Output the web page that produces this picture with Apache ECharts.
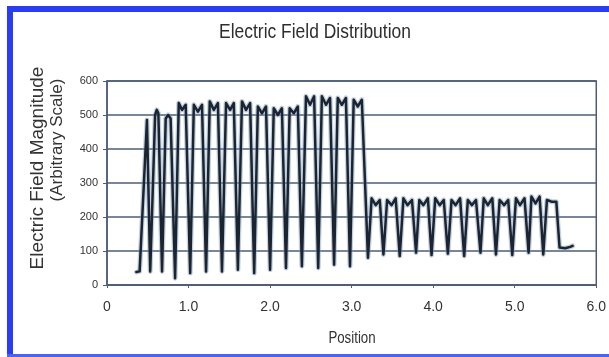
<!DOCTYPE html>
<html>
<head>
<meta charset="utf-8">
<title>Electric Field Distribution</title>
<script src="https://cdn.jsdelivr.net/npm/echarts/dist/echarts.min.js"></script>
<style>
    html, body { margin: 0; padding: 0; background: #fff; }
    #chart { width: 609px; height: 357px; }
</style>
</head>
<body>
<div id="chart"></div>
<script>
// values
var position = [
    0.36, 0.40, 0.49, 0.53,
    0.59, 0.61, 0.63, 0.675,
    0.72, 0.75, 0.78, 0.835,
    0.88, 0.92, 0.965, 1.02,
    1.065, 1.115, 1.165, 1.215,
    1.26, 1.31, 1.36, 1.41,
    1.46, 1.51, 1.555, 1.605,
    1.655, 1.705, 1.755, 1.805,
    1.85, 1.90, 1.95, 2.00,
    2.045, 2.095, 2.145, 2.195,
    2.24, 2.29, 2.34, 2.39,
    2.44, 2.49, 2.54, 2.59,
    2.635, 2.685, 2.735, 2.785,
    2.83, 2.88, 2.93, 2.98,
    3.025, 3.075, 3.125, 3.20,
    3.245, 3.295, 3.345, 3.39,
    3.435, 3.49, 3.54, 3.59,
    3.635, 3.685, 3.74, 3.79,
    3.83, 3.88, 3.935, 3.98,
    4.025, 4.08, 4.13, 4.18,
    4.225, 4.275, 4.33, 4.38,
    4.425, 4.475, 4.525, 4.58,
    4.62, 4.67, 4.725, 4.77,
    4.815, 4.87, 4.92, 4.97,
    5.015, 5.065, 5.12, 5.17,
    5.205, 5.255, 5.305, 5.35,
    5.395, 5.45, 5.51, 5.55,
    5.62, 5.68, 5.71
];
var magnitude = [
    38, 40, 485, 40,
    500, 515, 505, 40,
    490, 500, 490, 20,
    535, 515, 530, 35,
    530, 510, 530, 40,
    540, 515, 535, 40,
    535, 515, 535, 45,
    540, 515, 535, 35,
    525, 505, 525, 45,
    520, 500, 520, 50,
    520, 505, 525, 55,
    555, 530, 555, 50,
    555, 530, 550, 60,
    550, 530, 550, 55,
    545, 525, 545, 80,
    255, 235, 250, 90,
    250, 235, 255, 85,
    255, 235, 250, 95,
    250, 235, 255, 88,
    255, 235, 250, 92,
    250, 235, 255, 85,
    250, 235, 250, 95,
    255, 235, 255, 90,
    250, 235, 250, 88,
    255, 235, 255, 95,
    260, 240, 260, 90,
    250, 245, 245, 110,
    108, 112, 115
];
var xTickLabels = ['0', '1.0', '2.0', '3.0', '4.0', '5.0', '6.0'];
var yTickLabels = ['0', '100', '200', '300', '400', '500', '600'];

initChart();

function initChart() {
    var dom = document.getElementById('chart');
    var myChart = echarts.init(dom);
    var font = '"Liberation Sans", Arial, sans-serif';
    var gridColor = '#4d5d76';
    var blue = '#2b3df3';

    var points = [];
    for (var i = 0; i < position.length; i++) {
        points.push([position[i], magnitude[i]]);
    }

    var option = {
        backgroundColor: '#fff',
        animation: false,
        grid: {
            left: 107,
            right: 12,
            top: 81,
            bottom: 72,
            show: true,
            borderColor: gridColor,
            borderWidth: 1.5
        },
        xAxis: {
            type: 'value',
            min: 0,
            max: 6,
            interval: 1,
            axisLine: { lineStyle: { color: gridColor, width: 1.5 } },
            axisTick: { length: 3, lineStyle: { color: gridColor } },
            splitLine: { show: false },
            axisLabel: {
                margin: 15,
                color: '#333',
                fontFamily: font,
                fontSize: 14,
                formatter: function(v) {
                    return xTickLabels[Math.round(v)];
                }
            }
        },
        yAxis: {
            type: 'value',
            min: 0,
            max: 600,
            interval: 100,
            axisLine: { show: true, lineStyle: { color: gridColor, width: 1.5 } },
            axisTick: { show: true, length: 4, lineStyle: { color: gridColor } },
            splitLine: { lineStyle: { color: gridColor, width: 1.5 } },
            axisLabel: {
                margin: 9,
                color: '#333',
                fontFamily: font,
                fontSize: 11,
                formatter: function(v) {
                    return yTickLabels[Math.round(v / 100)];
                }
            }
        },
        graphic: [
            { type: 'rect', shape: { x: 7, y: 6, width: 602, height: 6 }, style: { fill: blue } },
            { type: 'rect', shape: { x: 7, y: 6, width: 6, height: 351 }, style: { fill: blue } },
            { type: 'rect', shape: { x: 7, y: 354, width: 602, height: 3 }, style: { fill: '#4a63f5' } },
            {
                // title, squeezed like the narrow face of the original
                type: 'text', x: 315, y: 32, scaleX: 0.83,
                style: {
                    text: 'Electric Field Distribution',
                    fill: '#2e2e2e', font: '21px ' + font,
                    textAlign: 'center', textVerticalAlign: 'middle'
                }
            },
            {
                type: 'text', x: 352, y: 339, scaleX: 0.83,
                style: {
                    text: 'Position',
                    fill: '#333', font: '16px ' + font,
                    textAlign: 'center', textVerticalAlign: 'middle'
                }
            },
            {
                type: 'text', x: 38, y: 168, rotation: Math.PI / 2,
                style: {
                    text: 'Electric Field Magnitude',
                    fill: '#333', font: '19px ' + font,
                    textAlign: 'center', textVerticalAlign: 'middle'
                }
            },
            {
                type: 'text', x: 57, y: 140, rotation: Math.PI / 2,
                style: {
                    text: '(Arbitrary Scale)',
                    fill: '#333', font: '17px ' + font,
                    textAlign: 'center', textVerticalAlign: 'middle'
                }
            }
        ],
        series: [{
                // soft halo from the scan
                type: 'line',
                data: points,
                symbol: 'none',
                silent: true,
                lineStyle: { color: 'rgba(120,150,185,0.45)', width: 5, join: 'round', cap: 'round' }
            },
            {
                type: 'line',
                data: points,
                symbol: 'none',
                lineStyle: { color: '#1b2430', width: 2.5, join: 'round', cap: 'round' }
            }
        ]
    };
    myChart.setOption(option, true);
    window.onresize = myChart.resize;
}
</script>
</body>
</html>
